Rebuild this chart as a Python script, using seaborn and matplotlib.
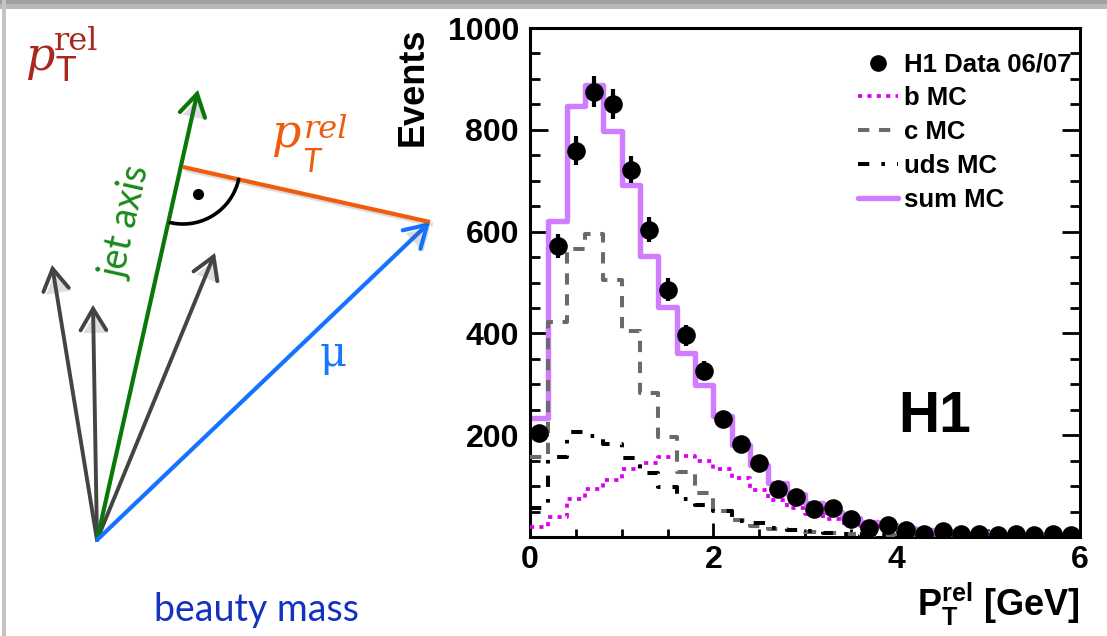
import numpy as np
import pandas as pd
import matplotlib
matplotlib.use("Agg")
import matplotlib.pyplot as plt
import matplotlib.patheffects as pe
from matplotlib.patches import FancyArrowPatch, Rectangle
from matplotlib.lines import Line2D
import seaborn as sns

# ---------------------------------------------------------------------------
# p_T^rel distribution: 30 bins of 0.2 GeV between 0 and 6 GeV
# ---------------------------------------------------------------------------
bin_width = 0.2
n_bins = 30
bin_edges = [round(i * bin_width, 2) for i in range(n_bins + 1)]
bin_centers = [round((i + 0.5) * bin_width, 2) for i in range(n_bins)]

data_counts = [204, 572, 759, 875, 851, 722, 604, 486, 396, 327,
               232, 182, 145, 95, 78, 55, 56, 35, 18, 24,
               14, 6, 12, 6, 6, 3, 6, 3, 6, 3]
data_errors = [14, 24, 28, 30, 29, 27, 25, 22, 20, 18,
               15, 13, 12, 10, 9, 7, 7, 6, 4, 5,
               4, 2, 3, 2, 2, 2, 2, 2, 2, 2]

b_mc = [20, 39, 75, 94, 112, 133, 145, 157, 159, 150,
        134, 115, 92, 73, 57, 46, 35, 27, 21, 15,
        12, 10, 8, 6, 5, 4, 3, 3, 2, 2]
c_mc = [157, 423, 566, 596, 504, 404, 282, 196, 128, 86,
        51, 34, 22, 16, 14, 9, 7, 5, 4, 3,
        3, 2, 2, 1, 1, 1, 1, 1, 1, 1]
uds_mc = [56, 158, 206, 198, 182, 155, 126, 98, 74, 63,
          52, 31, 27, 18, 14, 12, 8, 6, 4, 3,
          2, 2, 1, 1, 1, 1, 1, 1, 0, 0]

legend_labels = ["H1 Data 06/07", "b MC", "c MC", "uds MC", "sum MC"]
y_ticks = [200, 400, 600, 800, 1000]
x_ticks = [0, 2, 4, 6]

# sketch geometry (pixel coordinates of the left-hand drawing)
vertex = (97, 540)
jet_tip = (198, 90)
track_tips = [(52, 265), (93, 305), (215, 253)]
muon_tip = (430, 222)
foot = (183, 167)

# colours
C_SUM = "#d07cff"
C_B = "#dd00ee"
C_C = "#6a6a6a"
C_UDS = "#000000"

LS_B = (0, (1.1, 1.4))
LS_C = (0, (2.8, 2.4))
LS_UDS = (0, (2.8, 3.0, 0.9, 3.0))

hist = pd.DataFrame({"ptrel": bin_centers, "data": data_counts, "err": data_errors,
                     "b": b_mc, "c": c_mc, "uds": uds_mc})
hist["sum"] = hist["b"] + hist["c"] + hist["uds"]

sns.set_theme(style="white")
plt.rcParams["font.family"] = ["Liberation Sans", "DejaVu Sans"]
plt.rcParams["text.color"] = "black"
plt.rcParams["axes.labelcolor"] = "black"
plt.rcParams["xtick.color"] = "black"
plt.rcParams["ytick.color"] = "black"
plt.rcParams["mathtext.fontset"] = "custom"
plt.rcParams["mathtext.rm"] = "Liberation Sans:bold"
plt.rcParams["mathtext.bf"] = "Liberation Sans:bold"
plt.rcParams["mathtext.it"] = "Liberation Sans:bold"

W, H = 1107, 636
fig = plt.figure(figsize=(W / 100, H / 100), dpi=100)
fig.patch.set_facecolor("white")

# ---------------------------------------------------------------------------
# left: sketch of the p_T^rel definition
# ---------------------------------------------------------------------------
sk = fig.add_axes([0, 0, 1, 1], zorder=0)
sk.set_xlim(0, W)
sk.set_ylim(H, 0)
sk.axis("off")

shadow = [pe.SimplePatchShadow(offset=(2, -2), alpha=0.18), pe.Normal()]
line_shadow = [pe.SimpleLineShadow(offset=(2, -2), alpha=0.15), pe.Normal()]


def arrow(p0, p1, color, lw):
    a = FancyArrowPatch(p0, p1, arrowstyle="->,head_length=0.7,head_width=0.42",
                        mutation_scale=22, color=color, lw=lw,
                        shrinkA=0, shrinkB=0, capstyle="round", joinstyle="miter")
    a.set_path_effects(shadow)
    sk.add_patch(a)


for tip in track_tips:
    arrow(vertex, tip, "#444444", 2.8)
arrow(vertex, jet_tip, "#097809", 3.0)
arrow(vertex, muon_tip, "#1673ff", 3.0)

sk.plot([foot[0], muon_tip[0]], [foot[1], muon_tip[1]], color="#ee5c0c", lw=3.0,
        solid_capstyle="butt", path_effects=line_shadow)

# right-angle marker
v_jet = np.array(vertex) - np.array(foot)
v_mu = np.array(muon_tip) - np.array(foot)
t0 = np.arctan2(v_mu[1], v_mu[0])
t1 = np.arctan2(v_jet[1], v_jet[0])
tt = np.linspace(t0, t1, 60)
r = 57
sk.plot(foot[0] + r * np.cos(tt), foot[1] + r * np.sin(tt), color="black", lw=2.6)
sk.plot([198], [194], "o", color="black", ms=7)


def ptrel_label(x, y, color, slanted=False):
    """p_T^rel built from three pieces: italic p, sans T below, serif 'rel' above."""
    sty = "italic" if slanted else "normal"
    sk.text(x, y, "p", color=color, fontsize=33, family="DejaVu Serif",
            style="italic", ha="left", va="baseline")
    if slanted:
        sk.text(x + 33, y - 9, "rel", color=color, fontsize=23, family="DejaVu Serif",
                style=sty, ha="left", va="baseline")
        sk.text(x + 31, y + 25, "T", color=color, fontsize=24, family="Lato",
                style=sty, ha="left", va="baseline")
    else:
        sk.text(x + 29, y - 20, "rel", color=color, fontsize=23, family="DejaVu Serif",
                style=sty, ha="left", va="baseline")
        sk.text(x + 30, y + 11, "T", color=color, fontsize=25, family="Lato",
                style=sty, ha="left", va="baseline")


ptrel_label(25, 70, "#a8281e")
ptrel_label(271, 147, "#ee5c0c", slanted=True)

sk.text(126, 222, "jet axis", color="#1a8a1a", fontsize=27, family="Lato",
        rotation=77.4, ha="center", va="center", rotation_mode="anchor")
sk.text(333, 354, "\u03bc", color="#1a78ff", fontsize=30, family="DejaVu Serif",
        ha="center", va="center")
sk.text(256, 610, "beauty mass", color="#1432c0", fontsize=27, family="Lato",
        ha="center", va="center")

# slide frame
fig.add_artist(Rectangle((0, 1 - 9 / H), 1, 9 / H, transform=fig.transFigure,
                         facecolor="#b8b8b8", edgecolor="none", zorder=10))
fig.add_artist(Rectangle((0, 1 - 4 / H), 1, 4 / H, transform=fig.transFigure,
                         facecolor="#a0a0a0", edgecolor="none", zorder=10))
fig.add_artist(Rectangle((2 / W, 0), 4 / W, 1, transform=fig.transFigure,
                         facecolor="#c4c4c4", edgecolor="none", zorder=10))

# ---------------------------------------------------------------------------
# right: p_T^rel histogram
# ---------------------------------------------------------------------------
ax = fig.add_axes([530 / W, 1 - 537 / H, 550 / W, 509 / H], zorder=1)
ax.set_facecolor("white")

mc_styles = [
    ("sum", C_SUM, 3.9, "-", 2),
    ("b", C_B, 2.7, LS_B, 3),
    ("c", C_C, 2.9, LS_C, 3),
    ("uds", C_UDS, 2.9, LS_UDS, 3),
]
for col, color, lw, ls, z in mc_styles:
    sns.histplot(data=hist, x="ptrel", weights=col, bins=bin_edges, element="step",
                 fill=False, color=color, linewidth=lw, linestyle=ls, ax=ax, zorder=z)

ax.errorbar(hist["ptrel"], hist["data"], yerr=hist["err"], fmt="none",
            ecolor="black", elinewidth=3.0, capsize=0, zorder=5)
sns.scatterplot(data=hist, x="ptrel", y="data", color="black", s=180,
                edgecolor="black", linewidth=0, ax=ax, zorder=6)

ax.set_xlim(0, 6)
ax.set_ylim(0, 1000)
ax.set_xticks(x_ticks)
ax.set_xticklabels([str(t) for t in x_ticks])
ax.set_yticks(y_ticks)
ax.set_yticklabels([str(t) for t in y_ticks])
ax.set_xticks(np.arange(0, 6.01, 0.5), minor=True)
ax.set_yticks(np.arange(0, 1001, 50), minor=True)

for s in ax.spines.values():
    s.set_linewidth(2.2)
    s.set_color("black")
ax.tick_params(axis="both", which="both", direction="in", color="black",
               width=2.0, labelsize=23, labelcolor="black")
ax.tick_params(axis="y", which="major", length=13, left=True, right=True, pad=8)
ax.tick_params(axis="y", which="minor", length=7, left=True, right=True)
ax.tick_params(axis="x", which="major", length=10, bottom=True, top=False, pad=6)
ax.tick_params(axis="x", which="minor", length=5.5, bottom=True, top=False)
for lab in ax.get_xticklabels() + ax.get_yticklabels():
    lab.set_fontweight("bold")

ax.set_ylabel("Events", fontsize=26, fontweight="bold", loc="top", labelpad=12,
              color="black")
ax.set_xlabel(r"$\mathbf{P}_{\mathbf{T}}^{\mathbf{rel}}$ [GeV]", fontsize=26,
              fontweight="bold", loc="right", labelpad=4, color="black")

ax.text(0.735, 0.236, "H1", transform=ax.transAxes, fontsize=41,
        fontweight="bold", ha="center", va="center", color="black")

handles = [
    Line2D([], [], marker="o", color="black", linestyle="none", markersize=11),
    Line2D([], [], color=C_B, lw=2.7, linestyle=LS_B),
    Line2D([], [], color=C_C, lw=2.9, linestyle=LS_C),
    Line2D([], [], color=C_UDS, lw=2.9, linestyle=LS_UDS),
    Line2D([], [], color=C_SUM, lw=3.9),
]
leg = ax.legend(handles, legend_labels, loc="upper right",
                bbox_to_anchor=(1.012, 0.982), frameon=False,
                prop={"family": "Liberation Sans", "weight": "bold", "size": 18.5},
                handlelength=1.55, handletextpad=0.22, labelspacing=0.38,
                borderaxespad=0.2)
for t in leg.get_texts():
    t.set_color("black")

fig.savefig("out.png", dpi=100)
